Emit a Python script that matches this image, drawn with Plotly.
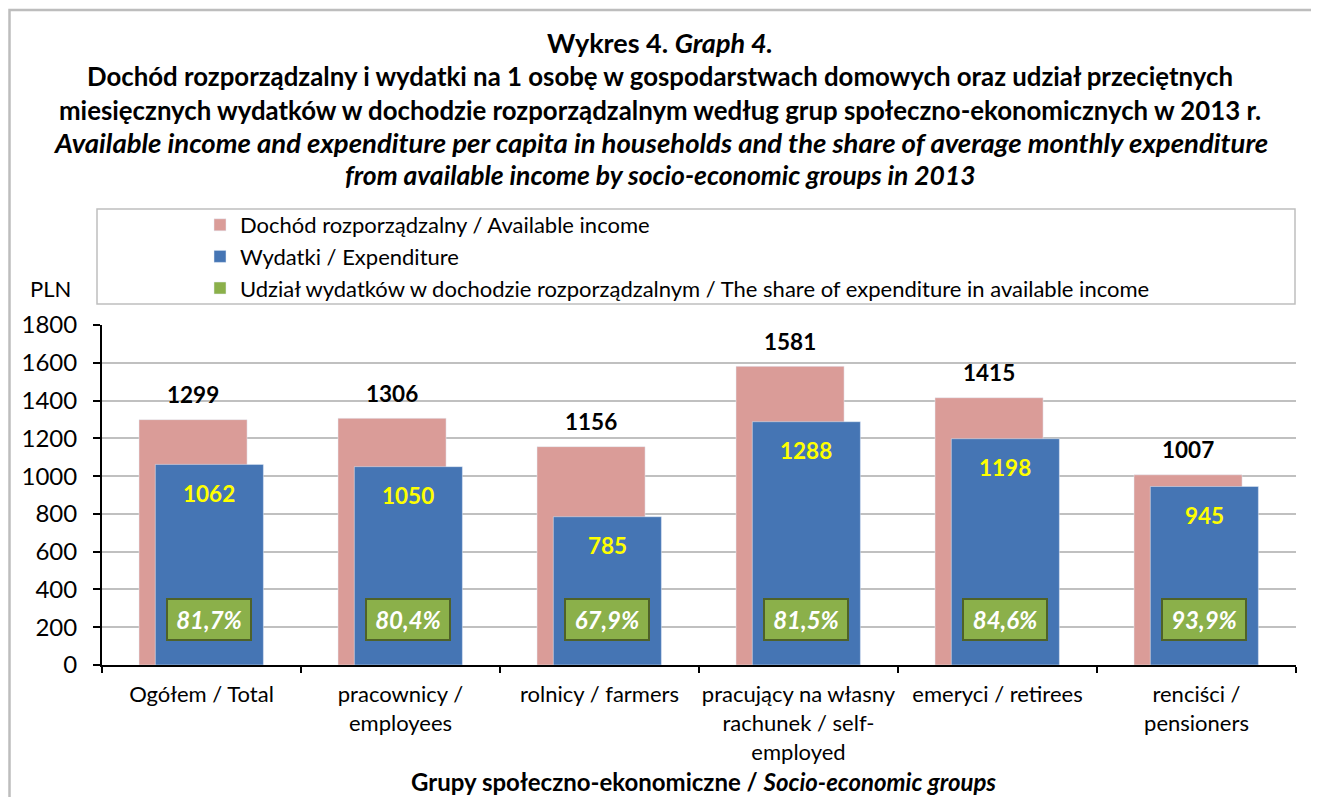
import plotly.graph_objects as go

# ---- data ----
categories = ["Ogółem", "pracownicy", "rolnicy", "pracujący", "emeryci", "renciści"]
tick_labels = [
    "Ogółem / Total",
    "pracownicy /<br>employees",
    "rolnicy / farmers",
    "pracujący na własny<br>rachunek / self-<br>employed",
    "emeryci / retirees",
    "renciści /<br>pensioners",
]
income = [1299, 1306, 1156, 1581, 1415, 1007]
expenditure = [1062, 1050, 785, 1288, 1198, 945]
share = [81.7, 80.4, 67.9, 81.5, 84.6, 93.9]

name_income = "Dochód rozporządzalny / Available income"
name_exp = "Wydatki / Expenditure"
name_share = "Udział wydatków w dochodzie rozporządzalnym / The share of expenditure in available income"

title_lines = [
    "<b>Wykres 4. <i>Graph 4.</i></b>",
    "<b>Dochód rozporządzalny i wydatki na 1 osobę w gospodarstwach domowych oraz udział przeciętnych</b>",
    "<b>miesięcznych wydatków w dochodzie rozporządzalnym według grup społeczno-ekonomicznych w 2013 r.</b>",
    "<b><i>Available income and expenditure per capita in households and the share of average monthly expenditure</i></b>",
    "<b><i>from available income by socio-economic groups in 2013</i></b>",
]
x_title = "<b>Grupy społeczno-ekonomiczne / <i>Socio-economic groups</i></b>"

# ---- style ----
FONT = "Lato"
PINK = "#DA9C98"
BLUE = "#4575B4"
GREEN = "#8BB04A"
GREEN_EDGE = "#4F6228"
GRID = "#C0C0C0"
PAGE_OFF = 8  # default body margin of the html page
W, H = 1319 - 2 * PAGE_OFF, 805 - 2 * PAGE_OFF
ML = 102 - PAGE_OFF
MT = 325 - PAGE_OFF
MR = W - (1296 - PAGE_OFF)
MB = H - (665 - PAGE_OFF)
BAR_W = 0.543
PINK_OFF = -0.314
BLUE_OFF = -0.232

fig = go.Figure()
fig.add_trace(go.Bar(x=categories, y=income, name=name_income, marker_color=PINK,
                     width=BAR_W, offset=PINK_OFF, legendgroup="a"))
fig.add_trace(go.Bar(x=categories, y=expenditure, name=name_exp, marker_color=BLUE,
                     width=BAR_W, offset=BLUE_OFF, legendgroup="b"))
fig.add_trace(go.Bar(x=categories, y=[None] * len(categories), name=name_share,
                     marker_color=GREEN, legendgroup="c"))

ann = []
for i, (inc, exp, sh) in enumerate(zip(income, expenditure, share)):
    ann.append(dict(x=i + PINK_OFF + BAR_W / 2, y=inc, xref="x", yref="y", text=f"<b>{inc}</b>",
                    showarrow=False, yshift=25, font=dict(family=FONT, size=22.5, color="black")))
    ann.append(dict(x=i + BLUE_OFF + BAR_W / 2, y=exp, xref="x", yref="y", text=f"<b>{exp}</b>",
                    showarrow=False, yshift=-29, font=dict(family=FONT, size=22.5, color="#FFFF00")))
    ann.append(dict(x=i + BLUE_OFF + BAR_W / 2, y=243, xref="x", yref="y",
                    text="<b><i>" + f"{sh:.1f}".replace(".", ",") + "%</i></b>",
                    showarrow=False, width=82, height=39, borderpad=0, borderwidth=2,
                    bordercolor=GREEN_EDGE, bgcolor=GREEN,
                    font=dict(family=FONT, size=24, color="white")))

pw = W - ML - MR
ph = H - MT - MB
def px_x(p):
    return (p - PAGE_OFF - ML) / pw
def px_y(p):
    return (H - MB - (p - PAGE_OFF)) / ph

title_y = [42, 76, 110, 143, 175]
title_size = [27, 25.8, 25.8, 27.5, 26.5]
for t, yy, sz in zip(title_lines, title_y, title_size):
    ann.append(dict(x=px_x(660), y=px_y(yy), xref="paper", yref="paper", text=t, showarrow=False,
                    xanchor="center", yanchor="middle", font=dict(family=FONT, size=sz, color="black")))

ann.append(dict(x=px_x(50), y=px_y(288), xref="paper", yref="paper", text="PLN", showarrow=False,
                xanchor="center", yanchor="middle", font=dict(family=FONT, size=22, color="black")))
ann.append(dict(x=px_x(703), y=px_y(781), xref="paper", yref="paper", text=x_title, showarrow=False,
                xanchor="center", yanchor="middle", font=dict(family=FONT, size=24, color="black")))

shapes = [
    dict(type="rect", xref="paper", yref="paper", x0=px_x(97), x1=px_x(1295), y0=px_y(304), y1=px_y(209),
         line=dict(color="#BFBFBF", width=1.5), fillcolor="rgba(0,0,0,0)", layer="below"),
    dict(type="rect", xref="paper", yref="paper", x0=px_x(9.5), x1=px_x(1360), y0=px_y(860), y1=px_y(10),
         line=dict(color="#BDBDBD", width=2.5), fillcolor="rgba(0,0,0,0)", layer="below"),
]

fig.update_layout(
    width=W, height=H,
    margin=dict(l=ML, r=MR, t=MT, b=MB, autoexpand=False),
    paper_bgcolor="white", plot_bgcolor="white",
    barmode="overlay",
    font=dict(family=FONT, size=22, color="black"),
    showlegend=True,
    legend=dict(x=px_x(200), y=px_y(204), xanchor="left", yanchor="top",
                traceorder="grouped", tracegroupgap=0,
                font=dict(family=FONT, size=22, color="black"),
                bgcolor="rgba(0,0,0,0)", borderwidth=0, itemclick=False),
    annotations=ann,
    shapes=shapes,
)
fig.update_xaxes(type="category", tickvals=categories, ticktext=tick_labels, tickangle=0,
                 tickson="boundaries", ticks="outside", ticklen=6, tickwidth=1.5, tickcolor="black",
                 showline=True, linecolor="black", linewidth=2, showgrid=False,
                 tickfont=dict(family=FONT, size=22, color="black"), ticklabelstandoff=9,
                 automargin=False, range=[-0.5, 5.5])
fig.update_yaxes(range=[0, 1800], dtick=200, ticks="outside", ticklen=7, tickwidth=1.5, tickcolor="black",
                 showline=True, linecolor="black", linewidth=2,
                 showgrid=True, gridcolor=GRID, gridwidth=1.5, zeroline=False,
                 tickfont=dict(family=FONT, size=24, color="black"),
                 ticklabelstandoff=11, automargin=False)

fig.write_html("out.html")
